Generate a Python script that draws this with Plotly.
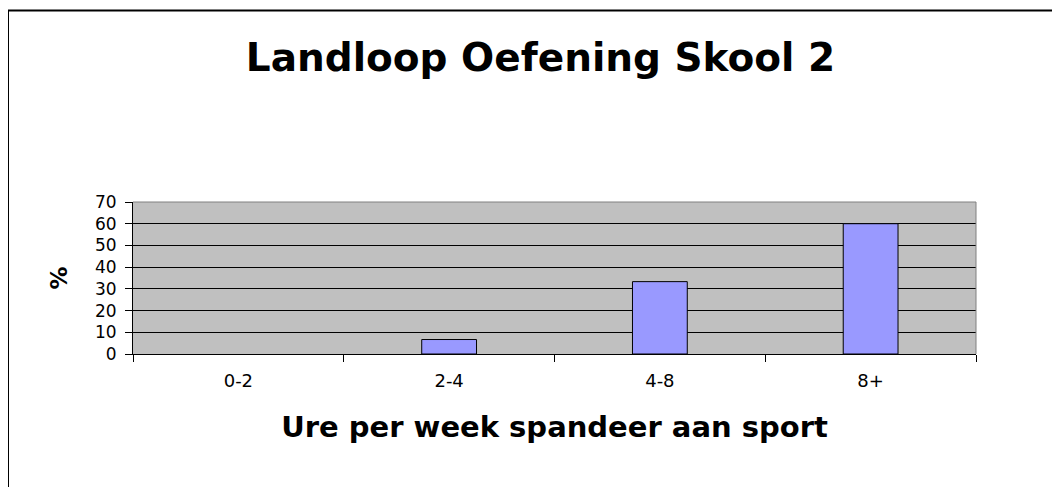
import plotly.graph_objects as go

categories = ["0-2", "2-4", "4-8", "8+"]
values = [0, 6.67, 33.33, 60]
y_ticks = [0, 10, 20, 30, 40, 50, 60, 70]

# page has an 8px body margin; figure sized so it fills the 1060x495 window
OFF = 8
W, H = 1060 - 2 * OFF, 495 - 2 * OFF
L, T = 133 - OFF, 202 - OFF
R = W - (976 - OFF)
B = H - (354 - OFF)
pw, ph = W - L - R, H - T - B

def px_x(p):  # window px -> paper
    return (p - OFF - L) / pw

def px_y(p):
    return (H - B - (p - OFF)) / ph

FONT = "DejaVu Sans, Verdana, sans-serif"

fig = go.Figure()
fig.add_trace(go.Bar(
    x=categories, y=values,
    marker=dict(color="#9999FF",
                line=dict(color="black", width=[0 if v == 0 else 1 for v in values])),
    hoverinfo="x+y",
))

fig.update_layout(
    width=W, height=H,
    margin=dict(l=L, r=R, t=T, b=B, pad=0),
    paper_bgcolor="white",
    plot_bgcolor="#C0C0C0",
    bargap=0.74,
    showlegend=False,
    font=dict(family=FONT, color="black"),
    title=dict(
        text="<b>Landloop Oefening Skool 2</b>",
        x=(540.5 - OFF) / W, xanchor="center", xref="container",
        y=1 - (57 - OFF) / H, yanchor="middle", yref="container",
        font=dict(size=39, color="black", family=FONT),
    ),
    xaxis=dict(
        type="category",
        tickson="boundaries",
        ticks="outside", ticklen=7, tickcolor="black", tickwidth=1,
        ticklabelstandoff=10,
        showline=True, linecolor="black", linewidth=1,
        showgrid=False,
        tickfont=dict(size=18),
        title=dict(text="<b>Ure per week spandeer aan sport</b>",
                   font=dict(size=29, family=FONT), standoff=27),
    ),
    yaxis=dict(
        range=[0, 70],
        tickvals=y_ticks,
        ticks="outside", ticklen=7, tickcolor="black", tickwidth=1,
        ticklabelstandoff=5,
        showline=True, linecolor="black", linewidth=1,
        showgrid=True, gridcolor="black", gridwidth=1,
        zeroline=False,
        tickfont=dict(size=17),
        title=dict(text="<b>%</b>", font=dict(size=23, family=FONT), standoff=20),
    ),
)

# plot area border (gray) on top and right
fig.add_shape(type="line", xref="paper", yref="paper", x0=0, x1=1, y0=1, y1=1,
              line=dict(color="#808080", width=1), layer="above")
fig.add_shape(type="line", xref="paper", yref="paper", x0=1, x1=1, y0=0, y1=1,
              line=dict(color="#808080", width=1), layer="above")
# chart frame
fig.add_shape(type="rect", xref="paper", yref="paper",
              x0=px_x(8), x1=px_x(1100), y0=px_y(540), y1=px_y(10.5),
              line=dict(color="black", width=2), layer="above")

fig.write_html("out.html")
